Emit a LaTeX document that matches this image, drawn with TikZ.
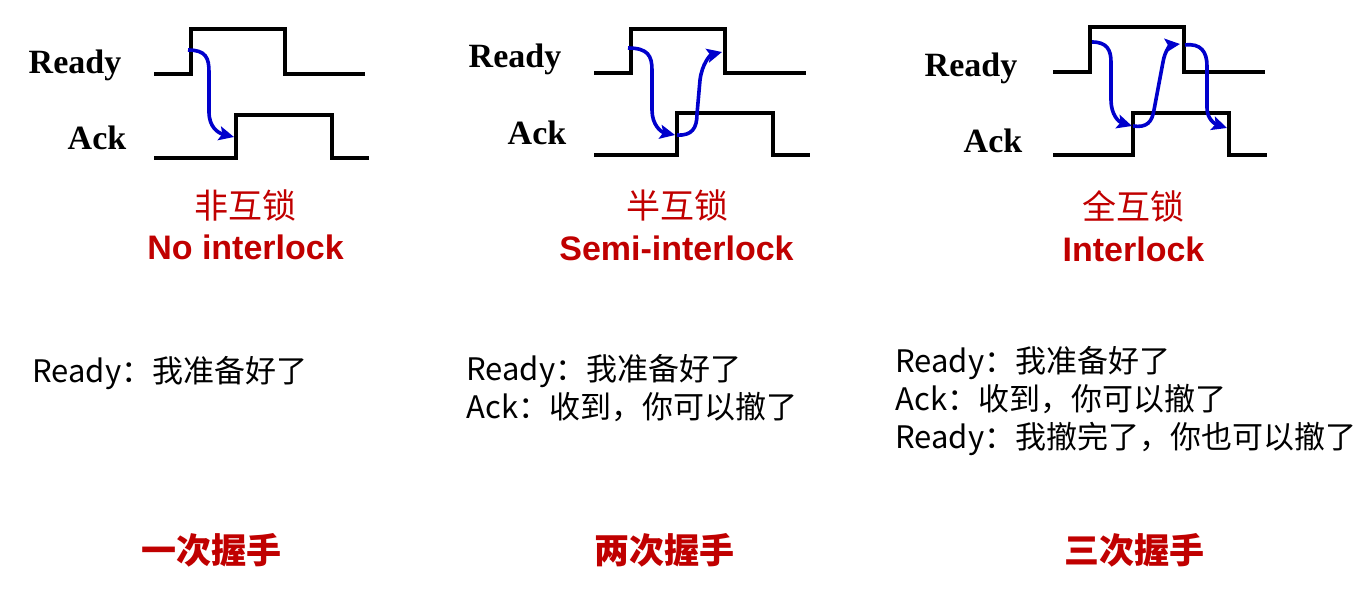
\documentclass[tikz,border=0pt]{standalone}
\usepackage{fontspec}
\setmainfont{Liberation Serif}
\newfontfamily\cjk{Noto Sans CJK SC}
\newfontfamily\arialfont{Liberation Sans}
\usetikzlibrary{arrows.meta}
\definecolor{titlered}{HTML}{C00000}
\definecolor{handblue}{HTML}{0000CC}
\tikzset{
 wave/.style={line width=1.7pt},
 handshake/.style={draw=handblue,line width=1.8pt,-{Stealth[length=7.5pt,width=7pt,inset=1.5pt]}},
 siglabel/.style={anchor=base,inner sep=0,font=\fontsize{17}{20}\selectfont\bfseries},
 cntitle/.style={anchor=base,inner sep=0,text=titlered,font=\cjk\fontsize{17}{20}\selectfont},
 entitle/.style={anchor=base,inner sep=0,text=titlered,font=\arialfont\fontsize{17}{20}\selectfont\bfseries},
 dialog/.style={anchor=base west,inner sep=0,align=left,font=\cjk\fontsize{15.5}{18.8}\selectfont},
 shakecount/.style={anchor=base,inner sep=0,text=titlered,font=\cjk\fontsize{17.5}{20}\selectfont\bfseries}
}
\begin{document}
\begin{tikzpicture}[x=0.5pt,y=-0.5pt]
\useasboundingbox (0,0) rectangle (1370,598);
\begin{scope}[shift={(154,0)}]
\draw[wave] (0,74) -| (37,29) -| (131,74) -- (211,74);
\draw[wave] (0,158) -| (82,115) -| (178,158) -- (215,158);
\coordinate (rdyA) at (34,50);
\coordinate (ackA) at (80,137);
\draw[handshake] (rdyA) .. controls (52,50) and (55,58) .. (55,72) -- (55,112) .. controls (55,127) and (64,133) .. (ackA);
\node[siglabel] (readyA) at (-79,74) {Ready};
\node[siglabel] (ackLabelA) at (-57,150) {Ack};
\node[cntitle] (cnA) at (91,219) {非互锁};
\node[entitle] (enA) at (91.5,260) {No interlock};
\node[dialog] (talkA) at (-122,383) {Ready：我准备好了};
\node[shakecount] (countA) at (57,563) {一次握手};
\end{scope}
\begin{scope}[shift={(594,0)}]
\draw[wave] (0,73) -| (37,29) -| (131,73) -- (212,73);
\draw[wave] (0,155) -| (83,113) -| (179,155) -- (216,155);
\coordinate (rdyB) at (34,48);
\coordinate (ackB) at (81,135);
\coordinate (ackB2) at (83,135);
\coordinate (rdyB2) at (128,52);
\draw[handshake] (rdyB) .. controls (54,48) and (58,56) .. (58,70) -- (58,110) .. controls (58,125) and (67,132) .. (ackB);
\draw[handshake] (ackB2) .. controls (98,136) and (103,128) .. (103,114) -- (106,80) .. controls (108,64) and (116,55) .. (rdyB2);
\node[siglabel] (readyB) at (-79,68) {Ready};
\node[siglabel] (ackLabelB) at (-57,145) {Ack};
\node[cntitle] (cnB) at (83,219) {半互锁};
\node[entitle] (enB) at (82.5,261) {Semi-interlock};
\node[dialog] (talkB) at (-128,418.6) {Ready：我准备好了\\Ack：收到，你可以撤了};
\node[shakecount] (countB) at (70,563) {两次握手};
\end{scope}
\begin{scope}[shift={(1053,0)}]
\draw[wave] (0,72) -| (37,27) -| (131,72) -- (212,72);
\draw[wave] (0,155) -| (80,113) -| (176,155) -- (214,155);
\coordinate (rdyC) at (39,42);
\coordinate (ackC) at (79,126);
\coordinate (ackC2) at (80,126);
\coordinate (rdyC2) at (127,44);
\coordinate (rdyC3) at (132,45);
\coordinate (ackC3) at (174,128);
\draw[handshake] (rdyC) .. controls (54,42) and (58,50) .. (58,62) -- (58,100) .. controls (58,115) and (66,122) .. (ackC);
\draw[handshake] (ackC2) .. controls (94,128) and (99,122) .. (101,110) -- (110,62) .. controls (112,50) and (118,45) .. (rdyC2);
\draw[handshake] (rdyC3) .. controls (148,43) and (154,52) .. (154,66) -- (154,108) .. controls (154,119) and (162,124) .. (ackC3);
\node[siglabel] (readyC) at (-82,77) {Ready};
\node[siglabel] (ackLabelC) at (-60,153) {Ack};
\node[cntitle] (cnC) at (80,220) {全互锁};
\node[entitle] (enC) at (80.5,262) {Interlock};
\node[dialog] (talkC) at (-158,448.2) {Ready：我准备好了\\Ack：收到，你可以撤了\\Ready：我撤完了，你也可以撤了};
\node[shakecount] (countC) at (81,563) {三次握手};
\end{scope}
\end{tikzpicture}
\end{document}
